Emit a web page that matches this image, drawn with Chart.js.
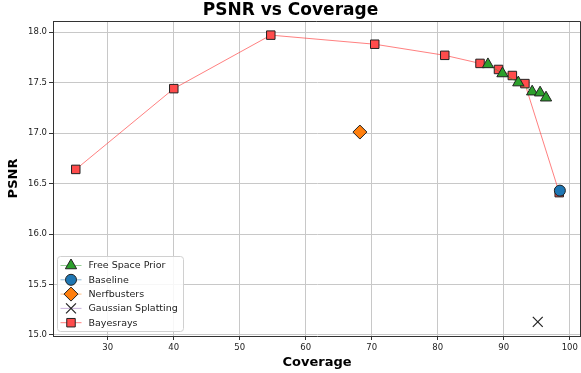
<!DOCTYPE html>
<html>
<head>
<meta charset="utf-8">
<script src="https://cdn.jsdelivr.net/npm/chart.js@4.4.1/dist/chart.umd.min.js"></script>
<style>
  html, body { margin: 0; padding: 0; background: #fff; }
  canvas { display: block; }
</style>
</head>
<body>
<canvas id="psnrChart" width="581" height="373"></canvas>
<script>
// values
const fspCoverage = [87.6, 89.8, 92.2, 94.3, 95.5, 96.4];
const fspPsnr = [17.68, 17.59, 17.50, 17.41, 17.40, 17.35];

const baselineCoverage = [98.5];
const baselinePsnr = [16.43];

const nerfbustersCoverage = [68.2];
const nerfbustersPsnr = [17.01];

const splattingCoverage = [95.15];
const splattingPsnr = [15.13];

const bayesCoverage = [25.15, 40.0, 54.7, 70.45, 81.06, 86.4, 89.2, 91.3, 93.2, 98.4];
const bayesPsnr = [16.64, 17.44, 17.97, 17.88, 17.77, 17.69, 17.63, 17.57, 17.49, 16.41];

const xTicks = [30, 40, 50, 60, 70, 80, 90, 100];
const yTicks = [15.0, 15.5, 16.0, 16.5, 17.0, 17.5, 18.0];

function toPoints(xs, ys) {
    return xs.map((x, i) => ({ x: x, y: ys[i] }));
}

const FONT = "'DejaVu Sans', sans-serif";

const seriesStyles = [
    { label: 'Free Space Prior', line: 'rgba(44,160,44,0.5)', fill: '#2ca02c', style: 'triangle', radius: 6.5 },
    { label: 'Baseline', line: 'rgba(31,119,180,0.5)', fill: '#1f77b4', style: 'circle', radius: 5.5 },
    { label: 'Nerfbusters', line: 'rgba(255,127,14,0.5)', fill: '#ff7f0e', style: 'rectRot', radius: 7 },
    { label: 'Gaussian Splatting', line: 'rgba(148,103,189,0.5)', fill: '#222', style: 'crossRot', radius: 7 },
    { label: 'Bayesrays', line: 'rgba(255,60,60,0.65)', fill: '#ff4c4c', style: 'rect', radius: 6 }
];

function makeDataset(idx, xs, ys) {
    const s = seriesStyles[idx];
    return {
        label: s.label,
        data: toPoints(xs, ys),
        showLine: true,
        borderColor: s.line,
        borderWidth: 1,
        pointStyle: s.style,
        pointRadius: s.radius,
        pointHoverRadius: s.radius,
        pointBackgroundColor: s.fill,
        pointBorderColor: '#222',
        pointBorderWidth: s.style === 'crossRot' ? 1.2 : 1
    };
}

// legend box in the lower-left corner + top/right spines
const framePlugin = {
    id: 'frame',
    afterDraw(chart) {
        const ctx = chart.ctx;
        const area = chart.chartArea;
        ctx.save();
        ctx.strokeStyle = '#333';
        ctx.lineWidth = 1;
        ctx.beginPath();
        ctx.moveTo(area.left, area.top + 0.5);
        ctx.lineTo(area.right - 0.5, area.top + 0.5);
        ctx.lineTo(area.right - 0.5, area.bottom);
        ctx.stroke();

        const boxW = 126, boxH = 75;
        const bx = area.left + 4.5, by = area.bottom - 4.5 - boxH;
        ctx.fillStyle = 'rgba(255,255,255,0.85)';
        ctx.strokeStyle = '#d0d0d0';
        ctx.beginPath();
        ctx.roundRect(bx, by, boxW, boxH, 3);
        ctx.fill();
        ctx.stroke();

        ctx.font = '9.5px ' + FONT;
        ctx.textBaseline = 'middle';
        seriesStyles.forEach((s, i) => {
            const y = by + 9 + i * 14.3;
            ctx.strokeStyle = s.line;
            ctx.lineWidth = 1;
            ctx.beginPath();
            ctx.moveTo(bx + 3, y);
            ctx.lineTo(bx + 24, y);
            ctx.stroke();
            ctx.fillStyle = s.fill;
            ctx.strokeStyle = '#222';
            ctx.lineWidth = s.style === 'crossRot' ? 1.2 : 1;
            Chart.helpers.drawPoint(ctx, { pointStyle: s.style, radius: s.radius, rotation: 0, borderWidth: 1 }, bx + 13.5, y);
            ctx.fillStyle = '#222';
            ctx.fillText(s.label, bx + 31, y + 0.5);
        });
        ctx.restore();
    }
};

const chart = new Chart(document.getElementById('psnrChart').getContext('2d'), {
    type: 'scatter',
    data: {
        datasets: [
            makeDataset(0, fspCoverage, fspPsnr),
            makeDataset(1, baselineCoverage, baselinePsnr),
            makeDataset(2, nerfbustersCoverage, nerfbustersPsnr),
            makeDataset(3, splattingCoverage, splattingPsnr),
            makeDataset(4, bayesCoverage, bayesPsnr)
        ]
    },
    options: {
        responsive: false,
        animation: false,
        events: [],
        layout: { padding: 0, autoPadding: false },
        plugins: {
            legend: { display: false },
            tooltip: { enabled: false },
            title: {
                display: true,
                text: 'PSNR vs Coverage',
                color: '#000',
                font: { family: FONT, size: 17, weight: 'bold', lineHeight: 1.2 },
                padding: { top: 0, bottom: 0.6 }
            }
        },
        scales: {
            x: {
                type: 'linear',
                min: 21.7,
                max: 101.7,
                afterBuildTicks: (s) => { s.ticks = xTicks.map(v => ({ value: v })); },
                afterFit: (s) => {
                    s.height = 37;
                    s.paddingLeft = 0;
                    s.paddingRight = 0;
                },
                grid: { color: '#c8c8c8', tickColor: '#333', tickLength: 4 },
                border: { display: true, color: '#333', width: 1 },
                ticks: { color: '#222', padding: 3, maxRotation: 0, font: { family: FONT, size: 8.5 } },
                title: {
                    display: true,
                    text: 'Coverage',
                    color: '#000',
                    font: { family: FONT, size: 13, weight: 'bold' },
                    padding: { top: 2, bottom: 3 }
                }
            },
            y: {
                type: 'linear',
                min: 14.99,
                max: 18.11,
                afterBuildTicks: (s) => { s.ticks = yTicks.map(v => ({ value: v })); },
                afterFit: (s) => {
                    s.width = 53;
                    s.paddingTop = 0;
                    s.paddingBottom = 0;
                },
                grid: { color: '#c8c8c8', tickColor: '#333', tickLength: 4 },
                border: { display: true, color: '#333', width: 1 },
                ticks: {
                    color: '#222',
                    padding: 2,
                    font: { family: FONT, size: 8.5 },
                    callback: (v) => Number(v).toFixed(1)
                },
                title: {
                    display: true,
                    text: 'PSNR',
                    color: '#000',
                    font: { family: FONT, size: 13, weight: 'bold' },
                    padding: { top: 6, bottom: 0 }
                }
            }
        }
    },
    plugins: [framePlugin]
});
</script>
</body>
</html>
